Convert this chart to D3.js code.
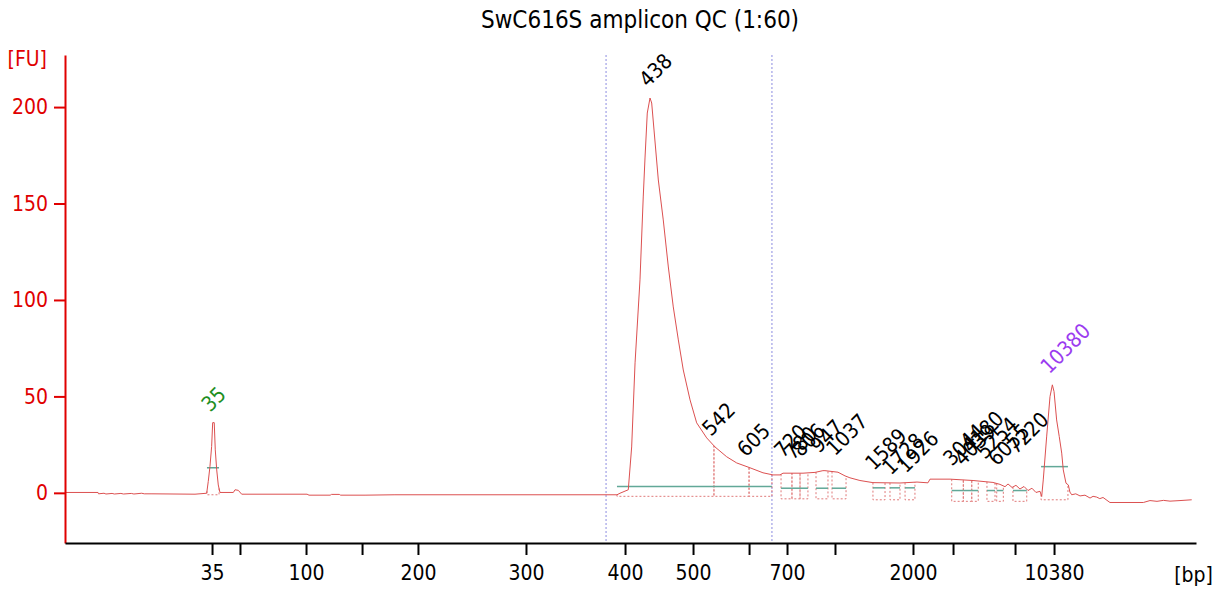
<!DOCTYPE html>
<html>
<head>
<meta charset="utf-8">
<script src="https://cdn.jsdelivr.net/npm/d3@7"></script>
<style>
    body { margin: 0; background: #fff; }
    text { font-family: "DejaVu Sans", sans-serif; font-stretch: condensed; }
</style>
</head>
<body>
<script>

    // migration time (s) of each ladder fragment
    var ladderBp = [35, 50, 100, 150, 200, 300, 400, 500, 600, 700, 1000, 2000, 3000, 7000, 10380];
    var ladderTime = [51.31, 53.46, 58.54, 62.85, 67.15, 75.46, 83.08, 88.31, 92.62, 95.54, 99.23, 105.23, 108.31, 113.08, 116.08];
    var labelledBp = [35, 100, 200, 300, 400, 500, 700, 2000, 10380];
    var fuTicks = [0, 50, 100, 150, 200];

    // [time, FU]
    var trace = [
        [40.0, 0.2], [42.54, 0.2], [42.58, -0.5], [43.0, -0.2], [43.15, -0.6], [43.62, -0.3], [43.8, -0.6],
        [44.3, -0.3], [44.5, -0.6], [45.1, -0.3], [45.3, -0.6], [45.9, -0.2], [46.1, -0.5], [46.69, -0.5],
        [50.0, -0.7], [50.9, -0.2], [51.02, 5.9], [51.15, 13.6], [51.28, 24], [51.36, 36.4], [51.48, 36.4],
        [51.56, 22.3], [51.67, 11.9], [51.79, 4.1], [51.92, 0.2], [52.95, 0.2], [53.08, 1.6], [53.33, 1.3],
        [53.59, -0.7], [58.62, -0.7], [58.77, -1.2], [60.4, -1.2], [60.5, -0.8], [61.1, -0.8], [61.2, -1.2],
        [63.08, -1.2], [65.38, -1.0], [82.46, -1.0], [82.69, -0.2], [83.33, 1.6], [83.59, 23.8], [83.85, 67.4],
        [84.23, 110.4], [84.48, 153.4], [84.62, 174.1], [84.79, 196.9], [85.0, 204.7], [85.13, 202.1],
        [85.31, 188.1], [85.64, 162.2], [86.02, 141.5], [86.41, 117.1], [86.79, 96.4], [87.18, 79.3],
        [87.56, 63.7], [88.08, 48.2], [88.59, 36.3], [89.36, 28.5], [90.0, 23.8], [90.9, 18.7], [91.67, 15.5],
        [92.69, 13.0], [93.69, 10.4], [94.46, 9.3], [95.0, 9.3], [95.23, 10.2], [96.77, 10.2], [97.69, 10.6],
        [98.3, 11.5], [98.46, 11.5], [99.46, 10.7], [100.0, 8.8], [100.38, 7.8], [101.15, 6.4], [102.15, 5.3],
        [104.23, 5.1], [105.54, 5.6], [106.38, 5.2], [106.54, 7.1], [108.08, 7.1], [109.85, 6.4],
        [111.38, 5.4], [111.92, 4.4], [112.31, 3.2], [112.54, 4.6], [112.85, 2.8], [113.15, 3.9],
        [113.46, 2.0], [113.77, 3.3], [114.08, 1.2], [114.38, 2.4], [114.69, 0.2], [115.0, 0.8],
        [115.13, -1.9], [115.25, 6.7], [115.51, 29], [115.77, 49.9], [115.95, 56],
        [116.08, 52.5], [116.28, 37.8], [116.48, 29.2], [116.67, 20.6], [116.79, 11.9], [117.0, 5.0],
        [117.18, 4.1], [117.3, 0.4], [117.44, -1.0], [117.75, -0.5], [118.08, -1.6], [118.46, -1.2],
        [118.85, -2.7], [119.08, -1.8], [119.36, -2.2], [119.6, -3.0], [119.85, -2.4],
        [120.38, -5.0], [122.95, -5.0], [123.46, -4.0], [124.0, -4.4], [124.5, -3.9], [125.0, -4.3],
        [125.77, -4.0], [126.67, -3.6]
    ];

    var regionTime = [81.62, 94.38];

    var peakBp = [35, 438, 542, 605, 720, 780, 806, 947, 1037, 1589, 1728, 1926, 3044, 4039, 4180, 5254, 6055, 7220, 10380];
    var peakTime = [51.40, 85.08, 89.92, 92.62, 95.46, 96.23, 96.85, 98.23, 99.46, 102.46, 103.77, 104.92, 108.46, 109.31, 109.92, 111.0, 111.92, 113.38, 115.95];
    var peakFu = [36.4, 204.7, 23.8, 13.0, 12.5, 11.5, 13.0, 15.0, 13.5, 6.0, 3.6, 4.6, 8.3, 8.3, 15.0, 11.9, 8.3, 14.5, 56];
    var peakStart = [50.92, 82.46, 89.92, 92.62, 95.08, 95.92, 96.54, 97.77, 99.0, 102.15, 103.46, 104.62, 108.21, 109.10, 109.75, 110.92, 111.67, 112.92, 115.08];
    var peakEnd = [51.85, 89.92, 92.62, 94.38, 95.92, 96.54, 97.15, 98.69, 100.08, 103.08, 104.23, 105.38, 109.10, 109.75, 110.25, 111.54, 112.18, 113.98, 117.15];
    var peakWidthFu = [13, 3.3, 3.3, 3.3, 2.4, 2.4, 2.4, 2.4, 2.4, 2.6, 2.6, 2.6, 1.2, 1.2, 1.2, 1.2, 1.2, 1.2, 13.6];
    var peakBaseFu = [-1.0, -1.8, -1.8, -1.8, -3.1, -3.1, -3.1, -3.1, -3.1, -3.6, -3.6, -3.6, -4.4, -4.4, -4.4, -4.4, -4.4, -4.4, -3.6];

    var width = 1216,
        height = 592,
        plotLeft = 65,
        plotRight = 1196,
        plotTop = 55,
        plotBottom = 543;

    var x = d3.scaleLinear().domain([40, 127]).range([plotLeft, plotRight]);
    var y = d3.scaleLinear().domain([-26, 227]).range([plotBottom, plotTop]);

    var svg = d3.select("body")
                .append("svg")
                .attr("width", width)
                .attr("height", height);

    svg.append("text")
       .attr("x", 640)
       .attr("y", 28)
       .attr("text-anchor", "middle")
       .attr("font-size", 24)
       .text("SwC616S amplicon QC (1:60)");

    // region markers
    svg.selectAll(".region")
       .data(regionTime)
       .enter()
       .append("line")
       .attr("x1", (d) => x(d))
       .attr("x2", (d) => x(d))
       .attr("y1", plotTop)
       .attr("y2", plotBottom)
       .attr("stroke", "#8c8ce0")
       .attr("stroke-width", 1)
       .attr("stroke-dasharray", "2,2");

    var bisect = d3.bisector((d) => d[0]).left;
    function traceAt(t) {
        var i = bisect(trace, t);
        if (i <= 0) return trace[0][1];
        if (i >= trace.length) return trace[trace.length - 1][1];
        var a = trace[i - 1], b = trace[i];
        return a[1] + (b[1] - a[1]) * (t - a[0]) / (b[0] - a[0]);
    }

    var peaks = peakBp.map((bp, i) => ({
        bp: bp,
        t: peakTime[i],
        fu: peakFu[i],
        start: peakStart[i],
        end: peakEnd[i],
        w: peakWidthFu[i],
        base: peakBaseFu[i]
    }));

    // peak start / end boxes
    svg.selectAll(".box")
       .data(peaks)
       .enter()
       .append("path")
       .attr("d", (d) => "M" + x(d.start) + "," + y(traceAt(d.start)) +
                         "V" + y(d.base) + "H" + x(d.end) + "V" + y(traceAt(d.end)))
       .attr("fill", "none")
       .attr("stroke", "#e07a7a")
       .attr("stroke-width", 1)
       .attr("stroke-dasharray", "2,2");

    svg.selectAll(".pw")
       .data(peaks)
       .enter()
       .append("line")
       .attr("x1", (d) => x(d.start))
       .attr("x2", (d) => x(d.end))
       .attr("y1", (d) => y(d.w))
       .attr("y2", (d) => y(d.w))
       .attr("stroke", "#62a898")
       .attr("stroke-width", 1.5);

    var line = d3.line()
                 .x((d) => x(d[0]))
                 .y((d) => y(d[1]));

    svg.append("path")
       .datum(trace)
       .attr("d", line)
       .attr("fill", "none")
       .attr("stroke", "#dc5050")
       .attr("stroke-width", 1);

    svg.selectAll(".plabel")
       .data(peaks)
       .enter()
       .append("text")
       .attr("transform", (d) => "translate(" + (x(d.t) - 3) + "," + (y(d.fu) - 10) + ") rotate(-45)")
       .attr("font-size", 21)
       .attr("fill", (d) => d.bp == 35 ? "#1f8f1f" : (d.bp == 10380 ? "#9b3cf0" : "#000"))
       .text((d) => d.bp);

    // axes
    var yAxis = d3.axisLeft(y)
                  .tickValues(fuTicks)
                  .tickSize(11)
                  .tickSizeOuter(0)
                  .tickPadding(6);

    var gy = svg.append("g")
                .attr("transform", "translate(" + plotLeft + ",0)")
                .call(yAxis);
    gy.selectAll("path, line").attr("stroke", "#e00000").attr("stroke-width", 2);
    gy.selectAll("text").attr("fill", "#e00000").attr("font-size", 21).attr("font-family", null);

    var xAxis = d3.axisBottom(x)
                  .tickValues(ladderTime)
                  .tickFormat((d, i) => labelledBp.indexOf(ladderBp[i]) >= 0 ? ladderBp[i] : "")
                  .tickSize(12)
                  .tickSizeOuter(0)
                  .tickPadding(10);

    var gx = svg.append("g")
                .attr("transform", "translate(0," + plotBottom + ")")
                .call(xAxis);
    gx.selectAll("path, line").attr("stroke", "#000").attr("stroke-width", 2);
    gx.selectAll("text").attr("fill", "#000").attr("font-size", 21).attr("font-family", null);

    svg.append("text")
       .attr("x", 47)
       .attr("y", 66)
       .attr("text-anchor", "end")
       .attr("font-size", 21)
       .attr("fill", "#e00000")
       .text("[FU]");

    svg.append("text")
       .attr("x", 1213)
       .attr("y", 582)
       .attr("text-anchor", "end")
       .attr("font-size", 21)
       .text("[bp]");

</script>
</body>
</html>
